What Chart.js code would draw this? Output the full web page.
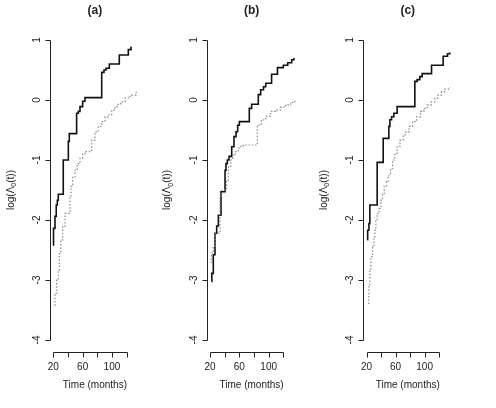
<!DOCTYPE html>
<html>
<head>
<meta charset="utf-8">
<script src="https://cdn.jsdelivr.net/npm/chart.js@4.4.1/dist/chart.umd.min.js"></script>
<style>
  body { margin: 0; background: #fff; }
  #wrap { position: relative; width: 496px; height: 408px; }
  #wrap canvas { position: absolute; left: 0; top: 0; }
</style>
</head>
<body>
<div id="wrap">
  <canvas id="pa" width="496" height="408"></canvas>
  <canvas id="pb" width="496" height="408"></canvas>
  <canvas id="pc" width="496" height="408"></canvas>
</div>
<script>
// (a) cumulative baseline hazard, log scale
const aSolidT = [20, 20.3, 22.3, 24, 25.5, 26.8, 33.6, 40.5, 41.8, 51.8, 54.1, 56.4, 60, 63.2, 86, 89.1, 91.8, 96.4, 110, 122.3, 126];
const aSolidY = [-2.42, -2.14, -1.94, -1.75, -1.67, -1.57, -1.0, -0.69, -0.56, -0.22, -0.19, -0.11, -0.02, 0.04, 0.46, 0.5, 0.53, 0.6, 0.75, 0.84, 0.89];
const aDotT = [21.4, 22.3, 24.6, 26.8, 28.2, 30.1, 32.8, 36.0, 42.8, 44.1, 46.4, 49.6, 52.7, 56.4, 60.0, 63.2, 72.3, 76.9, 81.4, 86.0, 90.5, 95.0, 99.6, 104.1, 108.6, 111.9, 117.8, 122.3, 126.9, 133];
const aDotY = [-3.42, -3.22, -3.0, -2.83, -2.56, -2.33, -2.11, -1.89, -1.61, -1.44, -1.28, -1.17, -1.06, -0.97, -0.9, -0.86, -0.67, -0.53, -0.44, -0.36, -0.28, -0.25, -0.17, -0.11, -0.07, -0.03, 0.03, 0.06, 0.08, 0.14];

// (b)
const bSolidT = [22.3, 22.5, 24.5, 26.8, 29.1, 31.4, 35, 40.5, 41.8, 43.6, 45.9, 49.6, 52.7, 55.5, 57.7, 60, 73.6, 76.8, 85.9, 89.1, 93, 96, 104, 112, 120, 126, 131.4, 134.5];
const bSolidY = [-3.03, -2.89, -2.58, -2.22, -2.1, -1.92, -1.53, -1.17, -1.06, -1.0, -0.94, -0.78, -0.61, -0.53, -0.42, -0.36, -0.14, -0.07, 0.09, 0.17, 0.22, 0.28, 0.43, 0.54, 0.58, 0.62, 0.67, 0.7];
const bDotT = [20.5, 22, 24.5, 26.8, 33.6, 36, 42.7, 45, 48.2, 50.9, 54.1, 58.6, 62, 65.5, 84.5, 90, 96, 102.7, 109.5, 116.4, 123.2, 130, 135.5];
const bDotY = [-2.7, -2.55, -2.43, -2.22, -1.6, -1.5, -1.33, -1.11, -1.0, -0.92, -0.86, -0.8, -0.76, -0.75, -0.42, -0.33, -0.27, -0.19, -0.17, -0.12, -0.08, -0.04, 0.0];

// (c)
const cSolidT = [20.9, 21.5, 23.2, 24.5, 34.6, 42.9, 50.7, 52.1, 54.4, 57.6, 62.1, 86.5, 89.7, 93.4, 96.6, 109.5, 125.5, 131.5, 134.7];
const cSolidY = [-2.33, -2.17, -2.06, -1.75, -1.04, -0.64, -0.44, -0.33, -0.28, -0.22, -0.11, 0.31, 0.34, 0.39, 0.44, 0.58, 0.73, 0.77, 0.79];
const cDotT = [22.3, 23.2, 24.5, 25.9, 28.3, 30.1, 31.4, 32.8, 34.6, 37.4, 39.7, 42.0, 44.3, 47.5, 49.8, 53.1, 55.8, 59.0, 62.1, 65.9, 70.4, 74.1, 78.7, 83.4, 88.9, 94.4, 98.9, 103.5, 109.5, 114.1, 118.6, 123.3, 127.9, 134.7];
const cDotY = [-3.39, -3.11, -2.83, -2.61, -2.44, -2.28, -2.17, -2.0, -1.89, -1.81, -1.67, -1.56, -1.44, -1.36, -1.25, -1.14, -1.0, -0.89, -0.78, -0.67, -0.58, -0.53, -0.44, -0.36, -0.28, -0.19, -0.14, -0.08, -0.03, 0.03, 0.08, 0.14, 0.18, 0.21];

const yTicks = [1, 0, -1, -2, -3, -4];
const xTicks = [20, 40, 60, 80, 100, 120];
const xTickLabels = ['20', '', '60', '', '100', ''];
const panelTitles = ['(a)', '(b)', '(c)'];
const xTitle = 'Time (months)';

const FONT = '"Liberation Sans", Arial, sans-serif';
const INK = '#222';

const toXY = (ts, ys) => ts.map((t, i) => ({ x: t, y: ys[i] }));

// R-style detached axes, titles and labels
const rAxes = {
  id: 'rAxes',
  afterDraw(chart, args, opts) {
    const ctx = chart.ctx;
    const xs = chart.scales.x, ys = chart.scales.y;
    const area = chart.chartArea;
    ctx.save();
    ctx.strokeStyle = INK;
    ctx.fillStyle = INK;
    ctx.lineWidth = 1;

    // y axis
    const lx = Math.round(area.left) + 0.5;
    ctx.beginPath();
    ctx.moveTo(lx, Math.round(ys.getPixelForValue(yTicks[0])) + 0.5);
    ctx.lineTo(lx, Math.round(ys.getPixelForValue(yTicks[yTicks.length - 1])) + 0.5);
    yTicks.forEach(v => {
      const py = Math.round(ys.getPixelForValue(v)) + 0.5;
      ctx.moveTo(lx, py);
      ctx.lineTo(lx - 5, py);
    });
    ctx.stroke();
    ctx.font = '10px ' + FONT;
    ctx.textAlign = 'center';
    ctx.textBaseline = 'middle';
    yTicks.forEach(v => {
      const py = ys.getPixelForValue(v);
      ctx.save();
      ctx.translate(lx - 13, py);
      ctx.rotate(-Math.PI / 2);
      ctx.fillText(String(v), 0, 0);
      ctx.restore();
    });

    // x axis
    const by = Math.round(area.bottom) + 0.5;
    ctx.beginPath();
    ctx.moveTo(Math.round(xs.getPixelForValue(xTicks[0])) + 0.5, by);
    ctx.lineTo(Math.round(xs.getPixelForValue(xTicks[xTicks.length - 1])) + 0.5, by);
    xTicks.forEach(v => {
      const px = Math.round(xs.getPixelForValue(v)) + 0.5;
      ctx.moveTo(px, by);
      ctx.lineTo(px, by + 5);
    });
    ctx.stroke();
    xTicks.forEach((v, i) => {
      if (xTickLabels[i]) ctx.fillText(xTickLabels[i], xs.getPixelForValue(v), area.bottom + 15);
    });

    const mid = (area.left + area.right) / 2;
    ctx.fillText(xTitle, mid, area.bottom + 33);

    // panel title
    ctx.font = 'bold 12px ' + FONT;
    ctx.fillText(opts.title, mid, 11);

    // y title: log(Λ0(t)) with subscript
    ctx.save();
    ctx.translate(area.left - 39, (area.top + area.bottom) / 2);
    ctx.rotate(-Math.PI / 2);
    ctx.textAlign = 'left';
    ctx.textBaseline = 'middle';
    const big = '10px ' + FONT, small = '7px ' + FONT;
    ctx.font = big;
    const w1 = ctx.measureText('log(\u039b').width;
    const w3 = ctx.measureText('(t))').width;
    ctx.font = small;
    const w2 = ctx.measureText('0').width;
    let x0 = -(w1 + w2 + w3) / 2;
    ctx.font = big;
    ctx.fillText('log(\u039b', x0, 0);
    ctx.font = small;
    ctx.fillText('0', x0 + w1, 3);
    ctx.font = big;
    ctx.fillText('(t))', x0 + w1 + w2, 0);
    ctx.restore();

    ctx.restore();
  }
};

function makePanel(id, title, left, pxPerMonth, solidT, solidY, dotT, dotY) {
  const xMin = 15.5, xMax = 138;
  const right = left + (xMax - xMin) * pxPerMonth;
  return new Chart(document.getElementById(id), {
    type: 'line',
    data: {
      datasets: [
        {
          data: toXY(dotT, dotY),
          borderColor: '#8a8a8a',
          borderWidth: 1.2,
          borderDash: [1.5, 1.8],
          pointRadius: 0,
          stepped: true,
          fill: false
        },
        {
          data: toXY(solidT, solidY),
          borderColor: '#111',
          borderWidth: 1.6,
          pointRadius: 0,
          stepped: true,
          fill: false
        }
      ]
    },
    options: {
      responsive: false,
      animation: false,
      devicePixelRatio: 1,
      events: [],
      layout: { padding: { left: left, right: 496 - right, top: 28, bottom: 408 - 352 } },
      scales: {
        x: { type: 'linear', min: xMin, max: xMax, display: false },
        y: { type: 'linear', min: -4.2, max: 1.2, display: false }
      },
      plugins: {
        legend: { display: false },
        title: { display: false },
        tooltip: { enabled: false },
        rAxes: { title: title }
      }
    },
    plugins: [rAxes]
  });
}

makePanel('pa', panelTitles[0], 50, 0.7333, aSolidT, aSolidY, aDotT, aDotY);
makePanel('pb', panelTitles[1], 206.7, 0.7333, bSolidT, bSolidY, bDotT, bDotY);
makePanel('pc', panelTitles[2], 363.3, 0.726, cSolidT, cSolidY, cDotT, cDotY);
</script>
</body>
</html>
